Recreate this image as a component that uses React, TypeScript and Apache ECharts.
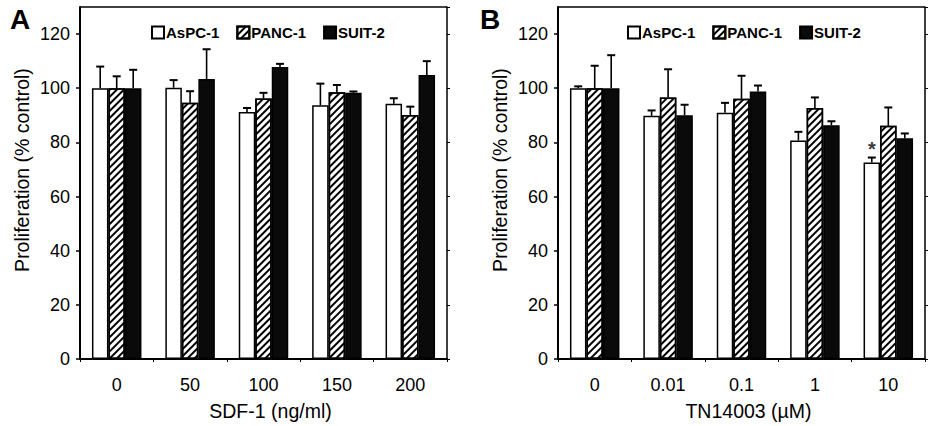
import React, { useEffect, useRef } from "react";
import * as echarts from "echarts";

const categoriesA = ["0", "50", "100", "150", "200"];
const categoriesB = ["0", "0.01", "0.1", "1", "10"];
const seriesNames = ["AsPC-1", "PANC-1", "SUIT-2"];
const yTicks = [0, 20, 40, 60, 80, 100, 120];

// Panel A (SDF-1) means and upper SD
const aspcA = [100, 100.2, 91.2, 93.7, 94.3];
const aspcASd = [8, 2.8, 1.5, 8, 2];
const pancA = [100, 94.6, 96.2, 98.5, 90.1];
const pancASd = [4.4, 4.3, 2.1, 2.7, 3.1];
const suitA = [100, 103.4, 107.8, 98.3, 104.9];
const suitASd = [6.8, 11, 1.2, 0.5, 5.1];

// Panel B (TN14003) means and upper SD
const aspcB = [100, 89.8, 90.9, 80.7, 72.6];
const aspcBSd = [0.7, 2, 3.7, 3.2, 1.8];
const pancB = [100, 96.6, 96.1, 92.7, 86.1];
const pancBSd = [8.3, 10.4, 8.5, 3.9, 6.8];
const suitB = [100, 90, 98.8, 86.3, 81.5];
const suitBSd = [12.2, 3.9, 2.2, 1.5, 1.8];

// significance mark (panel B, 10 µM, AsPC-1)
const starB = [[4, 78.6]];

const FONT = '"Liberation Sans", Arial, Helvetica, sans-serif';
const BAR_W = 16.5;

export default function App() {
  const ref = useRef<HTMLDivElement>(null);
  useEffect(() => {
    if (!ref.current) return;
    const chart = echarts.init(ref.current, null, { renderer: "svg" });

    const styles = [
      { color: "#ffffff", borderColor: "#000", borderWidth: 1.5 },
      {
        color: "#ffffff",
        borderColor: "#000",
        borderWidth: 1.5,
        decal: {
          symbol: "rect",
          symbolSize: 1,
          dashArrayX: [[1, 0]],
          dashArrayY: [1.2, 2.2],
          rotation: -Math.PI / 4,
          color: "#000",
          backgroundColor: "#fff",
        },
      },
      { color: "#0a0a0a", borderColor: "#000", borderWidth: 1.5 },
    ];

    const panels = [
      { cats: categoriesA, vals: [aspcA, pancA, suitA], sds: [aspcASd, pancASd, suitASd] },
      { cats: categoriesB, vals: [aspcB, pancB, suitB], sds: [aspcBSd, pancBSd, suitBSd] },
    ];

    const series: any[] = [];
    panels.forEach((p, pi) => {
      p.vals.forEach((vals, si) => {
        series.push({
          type: "bar",
          name: seriesNames[si],
          xAxisIndex: pi,
          yAxisIndex: pi * 2,
          data: vals,
          barWidth: BAR_W,
          barGap: "0%",
          itemStyle: styles[si],
          z: 2,
        });
      });
      p.vals.forEach((vals, si) => {
        const offset = (si - 1) * BAR_W;
        series.push({
          type: "custom",
          name: seriesNames[si] + " SD",
          xAxisIndex: pi,
          yAxisIndex: pi * 2,
          z: 3,
          silent: true,
          data: vals.map((v, i) => [i, v, v + p.sds[si][i]]),
          renderItem: (params: any, api: any) => {
            const a = api.coord([api.value(0), api.value(1)]);
            const b = api.coord([api.value(0), api.value(2)]);
            const x = a[0] + offset;
            return {
              type: "group",
              children: [
                { type: "line", shape: { x1: x, y1: a[1], x2: x, y2: b[1] }, style: { stroke: "#000", lineWidth: 1.6 } },
                { type: "line", shape: { x1: x - 4, y1: b[1], x2: x + 4, y2: b[1] }, style: { stroke: "#000", lineWidth: 2 } },
              ],
            };
          },
        });
      });
    });

    series.push({
      type: "scatter",
      name: "significance",
      xAxisIndex: 1,
      yAxisIndex: 2,
      data: starB,
      symbolSize: 1,
      itemStyle: { color: "rgba(0,0,0,0)" },
      silent: true,
      label: {
        show: true,
        position: "inside",
        formatter: "*",
        offset: [-BAR_W, 3],
        fontSize: 20,
        fontWeight: "bold",
        fontFamily: FONT,
        color: "#000",
      },
      z: 4,
    });

    const grids = [
      { left: 80, top: 7, width: 367, height: 353 },
      { left: 558, top: 7, width: 367, height: 353 },
    ];

    const xNames = ["SDF-1 (ng/ml)", "TN14003 (\u00b5M)"];

    const yLeft = (gi: number) => ({
      type: "value",
      gridIndex: gi,
      min: 0,
      max: 130,
      interval: 20,
      position: "left",
      name: "Proliferation (% control)",
      nameLocation: "middle",
      nameGap: 48,
      nameTextStyle: { fontSize: 19.5, fontFamily: FONT, color: "#000", padding: [0, 0, 0, 26] },
      axisLine: { show: true, lineStyle: { color: "#000", width: 2 } },
      axisTick: { show: true, length: 4, lineStyle: { color: "#000", width: 1.5 } },
      axisLabel: {
        fontSize: 18,
        fontFamily: FONT,
        color: "#000",
        margin: 10,
        showMaxLabel: false,
        formatter: (v: number) => (yTicks.includes(v) ? String(v) : ""),
      },
      splitLine: { show: false },
    });
    const yRight = (gi: number) => ({
      type: "value",
      gridIndex: gi,
      min: 0,
      max: 130,
      interval: 20,
      position: "right",
      axisLine: { show: true, lineStyle: { color: "#000", width: 1.5 } },
      axisTick: { show: true, length: 3, lineStyle: { color: "#000", width: 1 } },
      axisLabel: { show: false },
      splitLine: { show: false },
    });

    chart.setOption({
      animation: false,
      backgroundColor: "#ffffff",
      textStyle: { fontFamily: FONT },
      grid: grids,
      legend: [0, 1].map((i) => ({
        data: seriesNames,
        left: i === 0 ? 146 : 622,
        top: 20,
        itemWidth: 12,
        itemHeight: 12,
        itemGap: 17,
        icon: "rect",
        selectedMode: false,
        textStyle: { fontSize: 15, fontWeight: "bold", fontFamily: FONT, color: "#000", padding: [0, 0, 0, -3] },
      })),
      xAxis: [0, 1].map((i) => ({
        type: "category",
        gridIndex: i,
        data: panels[i].cats,
        name: xNames[i],
        nameLocation: "middle",
        nameGap: 42,
        nameTextStyle: { fontSize: 19.5, fontFamily: FONT, color: "#000", padding: [0, 0, 0, 14] },
        axisLine: { show: true, lineStyle: { color: "#000", width: 2 } },
        axisTick: { show: true, length: 3, alignWithLabel: false, lineStyle: { color: "#000", width: 1 } },
        axisLabel: { fontSize: 18, fontFamily: FONT, color: "#000", margin: 17 },
      })),
      yAxis: [yLeft(0), yRight(0), yLeft(1), yRight(1)],
      graphic: [
        { type: "text", left: 10, top: 5, style: { text: "A", font: `bold 28px ${FONT}`, fill: "#000" } },
        { type: "text", left: 480, top: 5, style: { text: "B", font: `bold 28px ${FONT}`, fill: "#000" } },
        { type: "line", shape: { x1: 80, y1: 7, x2: 447, y2: 7 }, style: { stroke: "#000", lineWidth: 1.5 } },
        { type: "line", shape: { x1: 558, y1: 7, x2: 925, y2: 7 }, style: { stroke: "#000", lineWidth: 1.5 } },
      ],
      series,
    });

    return () => chart.dispose();
  }, []);

  return (
    <div
      ref={ref}
      style={{ position: "absolute", left: 0, top: 0, width: 928, height: 426, background: "#fff" }}
    />
  );
}
